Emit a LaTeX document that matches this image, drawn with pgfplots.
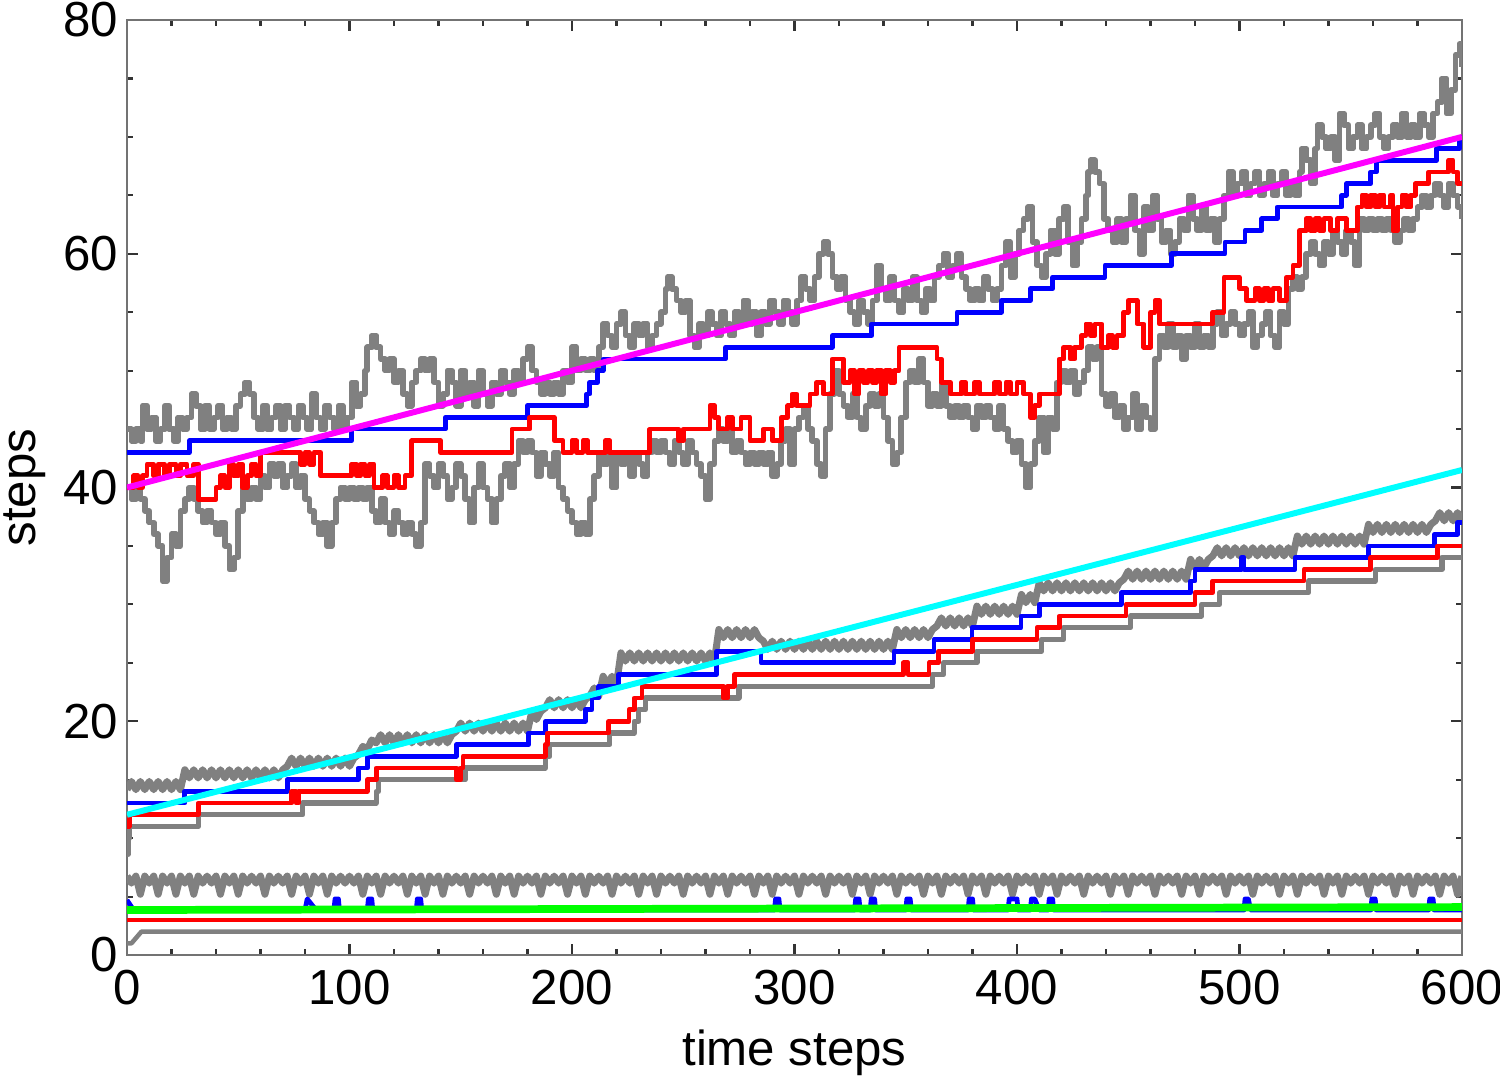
\documentclass[border=0pt]{standalone}
\usepackage{fontspec}
\setmainfont{Liberation Sans}
\usepackage{pgfplots}
\pgfplotsset{compat=1.18}
\definecolor{cgray}{RGB}{128,128,128}
\definecolor{cblue}{RGB}{0,0,255}
\definecolor{cred}{RGB}{255,0,0}
\definecolor{cmag}{RGB}{255,0,255}
\definecolor{ccyan}{RGB}{0,255,255}
\definecolor{cgreen}{RGB}{0,255,0}
\begin{document}
\begin{tikzpicture}
\begin{axis}[
  at={(0,0)}, anchor=south west,
  scale only axis, width=133.5mm, height=93.5mm,
  xmin=0, xmax=600, ymin=0, ymax=80,
  xtick={0,100,...,600}, ytick={0,20,...,80},
  minor x tick num=4, minor y tick num=3,
  major tick length=1.1mm, minor tick length=0.6mm,
  tick style={black!80, line width=0.6pt},
  axis line style={black!55, line width=0.7pt},
  /pgf/number format/assume math mode=true,
  ticklabel style={font=\fontsize{14}{14}\selectfont, inner sep=0pt},
  yticklabel style={xshift=-0.8mm},
  xticklabel style={yshift=-1.4mm},
  xlabel={time steps}, ylabel={steps},
  label style={font=\fontsize{14}{14}\selectfont},
  xlabel style={at={(axis description cs:0.5,-0.1048)}, anchor=center},
  ylabel style={at={(axis description cs:-0.0765,0.5)}, anchor=center},
  every axis plot/.append style={line join=round},
]
% ---------- upper group ----------
% gray upper noisy
\addplot[const plot, cgray, line width=1.6pt] coordinates {
(0,45)(2,44)(4,45)(6,44)(7,47)(9,45)(11,46)(13,44)(15,45)(17,47)(19,45)(21,44)(23,46)(25,45)(27,46)(29,48)(31,47)(33,45)(35,47)(37,45)(39,46)(41,47)(43,45)(45,46)(47,45)(49,47)(51,48)(53,49)(55,48)(57,46)(59,45)(61,47)(63,45)(65,46)(67,47)(69,45)(71,47)(73,46)(75,45)(77,47)(79,46)(81,45)(83,48)(85,46)(87,45)(89,47)(91,46)(93,45)(95,47)(97,45)(99,46)(101,49)(103,47)(105,48)(107,50)(108,52)(110,53)(112,52)(114,51)(116,50)(118,51)(120,49)(122,50)(124,48)(126,47)(128,49)(130,50)(132,51)(134,50)(136,51)(138,49)(140,47)(142,48)(144,50)(146,49)(148,47)(150,50)(152,48)(154,49)(156,47)(158,50)(160,48)(162,47)(164,49)(166,48)(168,50)(170,49)(172,48)(174,50)(176,49)(178,51)(180,52)(182,50)(184,49)(186,48)(188,49)(190,48)(192,49)(194,48)(196,50)(198,49)(200,52)(202,50)(204,51)(206,50)(208,51)(210,50)(212,52)(214,54)(216,53)(218,52)(220,54)(222,55)(224,53)(226,52)(228,54)(230,53)(232,54)(234,52)(236,53)(238,54)(240,55)(242,57)(243,58)(245,57)(247,56)(249,55)(251,56)(253,53)(255,52)(257,54)(259,53)(261,55)(263,54)(265,53)(267,55)(269,54)(271,53)(273,55)(275,54)(277,56)(279,54)(281,55)(283,53)(285,55)(287,54)(289,56)(291,55)(293,54)(295,56)(297,55)(299,54)(301,56)(303,58)(305,57)(307,56)(309,58)(311,60)(313,61)(315,60)(317,58)(319,57)(321,58)(323,56)(325,55)(327,54)(329,56)(331,55)(333,54)(335,56)(337,59)(339,57)(341,56)(343,58)(345,56)(347,55)(349,57)(351,56)(353,58)(355,56)(357,55)(359,57)(361,56)(363,58)(365,59)(367,60)(369,58)(371,59)(373,60)(375,58)(377,57)(379,56)(381,57)(383,56)(385,58)(387,57)(389,56)(391,57)(393,59)(395,61)(397,58)(399,60)(401,62)(403,63)(405,64)(407,61)(409,59)(411,58)(413,60)(415,62)(417,60)(419,63)(421,64)(423,61)(425,59)(427,61)(429,63)(431,65)(432,67)(433,68)(435,67)(437,66)(439,63)(441,62)(443,61)(445,63)(447,61)(449,63)(451,65)(453,62)(455,60)(457,64)(459,62)(461,65)(463,63)(465,61)(467,62)(469,60)(471,61)(473,63)(475,62)(477,65)(479,63)(481,62)(483,64)(485,62)(487,63)(489,61)(491,63)(493,65)(495,67)(497,65)(499,66)(501,67)(503,65)(505,66)(507,67)(509,65)(511,66)(513,67)(515,65)(517,66)(519,67)(521,65)(523,66)(525,65)(527,67)(528,69)(530,68)(532,66)(534,69)(535,71)(537,70)(539,69)(541,70)(543,68)(545,72)(547,71)(549,69)(551,70)(553,71)(555,69)(557,70)(559,71)(561,72)(563,70)(565,69)(567,70)(569,71)(571,70)(573,72)(575,70)(577,71)(579,70)(581,72)(583,71)(585,70)(587,72)(589,73)(591,75)(593,72)(595,74)(597,77)(599,78)(600,76)
};
% gray lower noisy
\addplot[const plot, cgray, line width=1.6pt] coordinates {
(0,40)(2,39)(4,40)(6,39)(8,38)(10,37)(12,36)(14,35)(16,32)(18,34)(20,36)(22,35)(24,38)(26,39)(28,40)(30,39)(32,38)(34,37)(36,38)(38,37)(40,36)(42,37)(44,35)(46,33)(48,34)(50,38)(52,40)(54,39)(56,40)(58,39)(60,41)(62,40)(64,42)(66,41)(68,42)(70,40)(72,41)(74,42)(76,40)(78,41)(80,39)(82,38)(84,37)(86,36)(88,37)(90,35)(92,37)(94,39)(96,40)(98,39)(100,40)(102,39)(104,40)(106,39)(108,40)(110,38)(112,37)(114,39)(116,37)(118,36)(120,38)(122,37)(124,36)(126,37)(128,36)(130,35)(132,37)(134,42)(136,41)(138,40)(140,42)(142,41)(144,39)(146,40)(148,42)(150,41)(152,39)(154,37)(156,40)(158,42)(160,40)(162,39)(164,37)(166,39)(168,41)(170,42)(172,40)(174,42)(176,44)(178,43)(180,44)(182,43)(184,41)(186,43)(188,42)(190,41)(192,43)(194,40)(196,39)(198,38)(200,37)(202,36)(204,37)(206,36)(208,39)(210,41)(212,43)(214,42)(216,43)(218,40)(220,43)(222,42)(224,43)(226,41)(228,43)(230,42)(232,41)(234,43)(236,44)(238,43)(240,44)(242,43)(244,42)(246,44)(248,43)(250,42)(252,44)(254,43)(256,42)(258,41)(260,39)(262,42)(264,44)(266,45)(268,44)(270,45)(272,43)(274,44)(276,43)(278,42)(280,43)(282,42)(284,43)(286,42)(288,43)(290,41)(292,42)(294,44)(296,45)(298,42)(300,45)(302,46)(304,47)(306,45)(308,44)(310,42)(312,41)(314,45)(316,48)(318,50)(320,48)(322,47)(324,46)(326,48)(328,46)(330,45)(332,47)(334,48)(336,47)(338,48)(340,46)(342,44)(344,42)(346,43)(348,46)(350,49)(352,50)(354,49)(356,51)(358,49)(360,47)(362,48)(364,47)(366,49)(368,47)(370,46)(372,47)(374,46)(376,47)(378,46)(380,45)(382,47)(384,46)(386,47)(388,46)(390,45)(392,47)(394,45)(396,44)(398,43)(400,44)(402,42)(404,40)(406,42)(408,44)(410,46)(412,43)(414,46)(416,45)(418,49)(420,50)(422,49)(424,50)(426,48)(428,49)(430,50)(432,52)(434,51)(436,52)(438,48)(440,47)(442,48)(444,46)(446,47)(448,45)(450,46)(452,48)(454,45)(456,47)(458,46)(460,45)(462,51)(464,53)(466,52)(468,54)(470,52)(472,53)(474,51)(476,53)(478,52)(480,54)(482,52)(484,53)(486,52)(488,54)(490,55)(492,53)(494,54)(496,55)(498,54)(500,53)(502,54)(504,55)(506,52)(508,53)(510,54)(512,55)(514,53)(516,52)(518,55)(520,54)(522,57)(524,58)(526,57)(528,58)(530,60)(532,61)(534,60)(536,59)(538,61)(540,60)(542,62)(544,61)(546,60)(548,62)(550,61)(552,59)(554,63)(556,62)(558,63)(560,62)(562,63)(564,62)(566,63)(568,62)(570,61)(572,62)(574,63)(576,62)(578,63)(580,64)(582,65)(584,64)(586,65)(588,66)(590,65)(592,64)(594,66)(596,65)(598,64)(600,63)
};
% blue upper staircase
\addplot[const plot, cblue, line width=1.35pt] coordinates {
(0,43)(28,44)(101,45)(143,46)(180,47)(206.6,48)(208,49)(211.5,50)(214,51)(269,52)(317,53)(334.7,54)(373,55)(393,56)(406,57)(416,58)(439.5,59)(469.5,60)(493.5,61)(502.5,62)(510,63)(517,64)(546,65)(548,66)(559,67)(561.5,68)(588.6,69)(599,70)(600,70)
};
% red upper
\addplot[const plot, cred, line width=1.35pt] coordinates {
(0,40)(3,41)(5,40)(7,41)(9,42)(12,41)(14,42)(17,41)(19,42)(22,41)(24,42)(27,41)(30,42)(32,39)(40,40)(42,41)(44,40)(46,42)(48,41)(50,42)(52,40)(54,41)(56,42)(58,41)(60,43)(78,42)(80,43)(82,42)(84,43)(87,41)(101,42)(103,41)(105,42)(107,41)(109,42)(111,40)(115,41)(117,40)(120,41)(122,40)(125,41)(128,44)(141,43)(173,45)(181,46)(192,44)(196,43)(200,44)(202,43)(205,44)(207,43)(215,44)(217,43)(235,45)(248,44)(250,45)(262,47)(264,46)(266,45)(270,46)(272,45)(276,46)(280,44)(286,45)(290,44)(294,46)(297,47)(299,48)(301,47)(307,48)(310,49)(313,48)(317,51)(322,49)(325,50)(327,48)(329,50)(331,49)(333,50)(335,49)(337,50)(339,48)(341,50)(343,49)(345,50)(347,52)(364,51)(366,49)(370,48)(375,49)(377,48)(381,49)(383,48)(390,49)(392,48)(395,49)(397,48)(400,49)(403,48)(406,46)(408,47)(410,48)(419,51)(421,52)(424,51)(426,52)(429,53)(431,54)(433,53)(435,54)(438,52)(441,53)(443,52)(445,53)(448,55)(450,56)(454,54)(457,52)(460,55)(462,56)(464,54)(488,55)(493,58)(500,57)(503,56)(507,57)(509,56)(511,57)(513,56)(515,57)(518,56)(521,58)(524,59)(527,62)(530,63)(532,62)(534,63)(536,62)(538,63)(541,62)(544,63)(548,62)(553,64)(555,65)(557,64)(559,65)(561,64)(563,65)(565,64)(568,65)(569,62)(571,64)(573,65)(575,64)(577,65)(579,66)(585,67)(594,68)(596,67)(598,66)(600,66)
};
% magenta line
\addplot[cmag, line width=1.7pt] coordinates {(0,40)(600,70)};
% ---------- middle group ----------
% gray noisy band
\addplot[cgray, line width=2pt] coordinates {
(0,14.15)(2,14.85)(4,14.15)(6,14.85)(8,14.15)(10,14.85)(12,14.15)(14,14.85)(16,14.15)(18,14.85)(20,14.15)(22,14.85)(24,14.15)
(26,15.85)(28,15.15)(30,15.85)(32,15.15)(34,15.85)(36,15.15)(38,15.85)(40,15.15)(42,15.85)(44,15.15)(46,15.85)(48,15.15)(50,15.85)(52,15.15)(54,15.85)(56,15.15)(58,15.85)(60,15.15)(62,15.85)(64,15.15)(66,15.85)(68,15.15)(70,15.85)
(72,16.15)(74,16.85)(76,16.15)(78,16.85)(80,16.15)(82,16.85)(84,16.15)(86,16.85)(88,16.15)(90,16.85)(92,16.15)(94,16.85)(96,16.15)(98,16.85)(100,16.15)(102,16.85)
(104,17.15)(106,17.85)(108,17.6)(110,18.4)
(112,18.15)(114,18.85)(116,18.15)(118,18.85)(120,18.15)(122,18.85)(124,18.15)(126,18.85)(128,18.15)(130,18.85)(132,18.15)(134,18.85)(136,18.15)(138,18.85)(140,18.15)(142,18.85)(144,18.15)(146,18.85)
(148,19.15)(150,19.85)(152,19.15)(154,19.85)(156,19.15)(158,19.85)(160,19.15)(162,19.85)(164,19.15)(166,19.85)(168,19.15)(170,19.85)(172,19.15)(174,19.85)(176,19.15)(178,19.85)(180,19.15)
(182,20.85)(184,20.15)(186,20.85)
(188,21.15)(190,21.85)(192,21.15)(194,21.85)(196,21.15)(198,21.85)(200,21.15)(202,21.85)(204,21.15)(206,21.85)
(208,22.15)(210,22.85)(212,22.15)(214,23.85)(216,23.15)(218,23.85)(220,23.15)
(222,25.85)(224,25.15)(226,25.85)(228,25.15)(230,25.85)(232,25.15)(234,25.85)(236,25.15)(238,25.85)(240,25.15)(242,25.85)(244,25.15)(246,25.85)(248,25.15)(250,25.85)(252,25.15)(254,25.85)(256,25.15)(258,25.85)(260,25.15)(262,25.85)(264,25.15)
(266,27.85)(268,27.15)(270,27.85)(272,27.15)(274,27.85)(276,27.15)(278,27.85)(280,27.15)(282,27.85)(284,27.15)
(286,26.85)(288,26.15)(290,26.85)(292,26.15)(294,26.85)(296,26.15)(298,26.85)(300,26.15)(302,26.85)(304,26.15)(306,26.85)(308,26.15)(310,26.85)(312,26.15)(314,26.85)(316,26.15)(318,26.85)(320,26.15)(322,26.85)(324,26.15)(326,26.85)(328,26.15)(330,26.85)(332,26.15)(334,26.85)(336,26.15)(338,26.85)(340,26.15)(342,26.85)(344,26.15)
(346,27.85)(348,27.15)(350,27.85)(352,27.15)(354,27.85)(356,27.15)(358,27.85)(360,27.15)(362,27.85)
(364,28.15)(366,28.85)(368,28.15)(370,28.85)(372,28.15)(374,28.85)(376,28.15)(378,28.85)(380,28.15)
(382,29.85)(384,29.15)(386,29.85)(388,29.15)(390,29.85)(392,29.15)(394,29.85)(396,29.15)(398,29.85)(400,29.15)
(402,30.85)(404,30.15)(406,30.85)(408,30.15)
(410,31.85)(412,31.15)(414,31.85)(416,31.15)(418,31.85)(420,31.15)(422,31.85)(424,31.15)(426,31.85)(428,31.15)(430,31.85)(432,31.15)(434,31.85)(436,31.15)(438,31.85)(440,31.15)(442,31.85)(444,31.15)(446,31.85)
(448,32.15)(450,32.85)(452,32.15)(454,32.85)(456,32.15)(458,32.85)(460,32.15)(462,32.85)(464,32.15)(466,32.85)(468,32.15)(470,32.85)(472,32.15)(474,32.85)(476,32.15)
(478,33.85)(480,33.15)(482,33.85)(484,33.15)(486,33.85)
(488,34.15)(490,34.85)(492,34.15)(494,34.85)(496,34.15)(498,34.85)(500,34.15)(502,34.85)(504,34.15)(506,34.85)(508,34.15)(510,34.85)(512,34.15)(514,34.85)(516,34.15)(518,34.85)(520,34.15)(522,34.85)(524,34.15)
(526,35.85)(528,35.15)(530,35.85)(532,35.15)(534,35.85)(536,35.15)(538,35.85)(540,35.15)(542,35.85)(544,35.15)(546,35.85)(548,35.15)(550,35.85)(552,35.15)(554,35.85)(556,35.15)
(558,36.85)(560,36.15)(562,36.85)(564,36.15)(566,36.85)(568,36.15)(570,36.85)(572,36.15)(574,36.85)(576,36.15)(578,36.85)(580,36.15)(582,36.85)(584,36.15)(586,36.85)
(588,37.15)(590,37.85)(592,37.15)(594,37.85)(596,37.15)(598,37.85)(600,37.15)
};
% gray lower staircase
\addplot[const plot, cgray, line width=1.5pt] coordinates {
(0,8.6)(0.5,10)(1,11)(32,12)(79,13)(112,14)(113,15)(152,16)(188,17)(190,18)(217,19)(228,20)(230,21)(233,22)(275,23)(362,24)(367,25)(382,26)(411,27)(421,28)(451,29)(483,30)(491,31)(531,32)(561,33)(591,34)(600,34)
};
% blue middle staircase
\addplot[const plot, cblue, line width=1.35pt] coordinates {
(0,13)(26,14)(72,15)(104,16)(108,17)(148,18)(180.6,19)(188,20)(206,21)(209,22)(212,23)(221,24)(265,26)(285,25)(344.7,26)(362.7,27)(379.8,28)(401.8,29)(410,30)(446.8,31)(478,32)(480,33)(501,34)(502,33)(525,34)(558,35)(587.5,36)(598,37)(600,37)
};
% red middle staircase
\addplot[const plot, cred, line width=1.35pt] coordinates {
(0,11)(1,12)(32,13)(74,14)(76,13)(77,14)(108,15)(112,16)(148,15)(150,16)(151,17)(188,18)(189,19)(216.5,20)(225.6,21)(228,22)(231.5,23)(268,22)(270,23)(273,24)(349,25)(351,24)(360.5,25)(364.6,26)(380,27)(409,28)(419,29)(449,30)(480,31)(488,32)(529,33)(559,34)(589,35)(600,35)
};
% cyan line
\addplot[ccyan, line width=1.7pt] coordinates {(0,12)(600,41.5)};
% ---------- bottom group ----------
\addplot[cgray, line width=2pt] coordinates {
(0,6.75)(2,6.15)(4,6.75)(6,5.2)(8,6.75)(10,6.15)(12,6.75)(14,5.2)(16,6.75)(18,6.15)(20,6.75)(22,5.2)(24,6.75)(26,6.15)(28,6.75)(30,5.2)(32,6.75)(34,6.15)(36,6.75)(38,6.15)(40,6.75)(42,5.2)(44,6.75)(46,6.15)(48,6.75)(50,5.2)(52,6.75)(54,6.15)(56,6.75)(58,6.15)(60,6.75)(62,5.2)(64,6.75)(66,6.15)(68,6.75)(70,6.15)(72,6.75)(74,5.2)(76,6.75)(78,6.15)(80,6.75)(82,5.2)(84,6.75)(86,6.15)(88,6.75)(90,5.2)(92,6.75)(94,6.15)(96,6.75)(98,6.15)(100,6.75)(102,6.15)(104,6.75)(106,5.2)(108,6.75)(110,6.15)(112,6.75)(114,5.2)(116,6.75)(118,6.15)(120,6.75)(122,6.15)(124,6.75)(126,5.2)(128,6.75)(130,6.15)(132,6.75)(134,5.2)(136,6.75)(138,6.15)(140,6.75)(142,5.2)(144,6.75)(146,6.15)(148,6.75)(150,6.15)(152,6.75)(154,5.2)(156,6.75)(158,6.15)(160,6.75)(162,6.15)(164,6.75)(166,5.2)(168,6.75)(170,6.15)(172,6.75)(174,5.2)(176,6.75)(178,6.15)(180,6.75)(182,6.15)(184,6.75)(186,5.2)(188,6.75)(190,6.15)(192,6.75)(194,6.15)(196,6.75)(198,5.2)(200,6.75)(202,6.15)(204,6.75)(206,5.2)(208,6.75)(210,6.15)(212,6.75)(214,6.15)(216,6.75)(218,5.2)(220,6.75)(222,6.15)(224,6.75)(226,6.15)(228,6.75)(230,5.2)(232,6.75)(234,6.15)(236,6.75)(238,5.2)(240,6.75)(242,6.15)(244,6.75)(246,6.15)(248,6.75)(250,5.2)(252,6.75)(254,6.15)(256,6.75)(258,6.15)(260,6.75)(262,5.2)(264,6.75)(266,6.15)(268,6.75)(270,5.2)(272,6.75)(274,6.15)(276,6.75)(278,6.15)(280,6.75)(282,5.2)(284,6.75)(286,6.15)(288,6.75)(290,5.2)(292,6.75)(294,6.15)(296,6.75)(298,6.15)(300,6.75)(302,5.2)(304,6.75)(306,6.15)(308,6.75)(310,6.15)(312,6.75)(314,5.2)(316,6.75)(318,6.15)(320,6.75)(322,6.15)(324,6.75)(326,5.2)(328,6.75)(330,6.15)(332,6.75)(334,5.2)(336,6.75)(338,6.15)(340,6.75)(342,6.15)(344,6.75)(346,5.2)(348,6.75)(350,6.15)(352,6.75)(354,6.15)(356,6.75)(358,5.2)(360,6.75)(362,6.15)(364,6.75)(366,5.2)(368,6.75)(370,6.15)(372,6.75)(374,6.15)(376,6.75)(378,5.2)(380,6.75)(382,6.15)(384,6.75)(386,5.2)(388,6.75)(390,6.15)(392,6.75)(394,6.15)(396,6.75)(398,5.2)(400,6.75)(402,6.15)(404,6.75)(406,6.15)(408,6.75)(410,5.2)(412,6.75)(414,6.15)(416,6.75)(418,5.2)(420,6.75)(422,6.15)(424,6.75)(426,6.15)(428,6.75)(430,5.2)(432,6.75)(434,6.15)(436,6.75)(438,6.15)(440,6.75)(442,5.2)(444,6.75)(446,6.15)(448,6.75)(450,5.2)(452,6.75)(454,6.15)(456,6.75)(458,6.15)(460,6.75)(462,5.2)(464,6.75)(466,6.15)(468,6.75)(470,6.15)(472,6.75)(474,5.2)(476,6.75)(478,6.15)(480,6.75)(482,5.2)(484,6.75)(486,6.15)(488,6.75)(490,6.15)(492,6.75)(494,5.2)(496,6.75)(498,6.15)(500,6.75)(502,6.15)(504,6.75)(506,5.2)(508,6.75)(510,6.15)(512,6.75)(514,6.15)(516,6.75)(518,5.2)(520,6.75)(522,6.15)(524,6.75)(526,5.2)(528,6.75)(530,6.15)(532,6.75)(534,6.15)(536,6.75)(538,5.2)(540,6.75)(542,6.15)(544,6.75)(546,5.2)(548,6.75)(550,6.15)(552,6.75)(554,6.15)(556,6.75)(558,5.2)(560,6.75)(562,6.15)(564,6.75)(566,6.15)(568,6.75)(570,5.2)(572,6.75)(574,6.15)(576,6.75)(578,5.2)(580,6.75)(582,6.15)(584,6.75)(586,6.15)(588,6.75)(590,5.2)(592,6.75)(594,6.15)(596,6.75)(598,5.2)(600,6.75)
};
\addplot[cblue, line width=1.35pt] coordinates {
(0,4.7)(3,3.85)(80,3.85)(81,4.8)(85,3.85)(93,3.85)(93.5,4.8)(95,4.8)(95.5,3.85)(108,3.85)(108.5,4.8)(110,4.8)(110.5,3.85)(130,3.85)(130.5,4.8)(132,4.8)(132.5,3.85)(291,3.85)(291.5,4.8)(293,4.8)(293.5,3.85)(327,3.85)(327.5,4.8)(329,4.8)(329.5,3.85)(334,3.85)(334.5,4.8)(336,4.8)(336.5,3.85)(350,3.85)(350.5,4.8)(352,4.8)(352.5,3.85)(378,3.85)(378.5,4.8)(380,4.8)(380.5,3.85)(396,3.85)(396.5,4.8)(400,4.8)(400.5,3.85)(406,3.85)(406.5,4.8)(408,4.8)(410,3.85)(414,3.85)(414.5,4.8)(416,4.8)(416.5,3.85)(502,3.85)(502.5,4.8)(504,4.8)(505,3.85)(559,3.85)(559.5,4.8)(561,4.8)(561.5,3.85)(585,3.85)(585.5,4.8)(587,4.8)(587.5,3.85)(600,3.85)
};
\addplot[cgreen, line width=2.2pt] coordinates {(0,3.85)(600,4.1)};
\addplot[cred, line width=1.35pt] coordinates {(0,3)(600,3)};
\addplot[cgray, line width=1.3pt] coordinates {(0,1)(2,1)(6.5,2)(600,2)};
\end{axis}
\pgfresetboundingbox
\path (-12.7mm,-12.6mm) rectangle (137.3mm,95.5mm);
\end{tikzpicture}
\end{document}
